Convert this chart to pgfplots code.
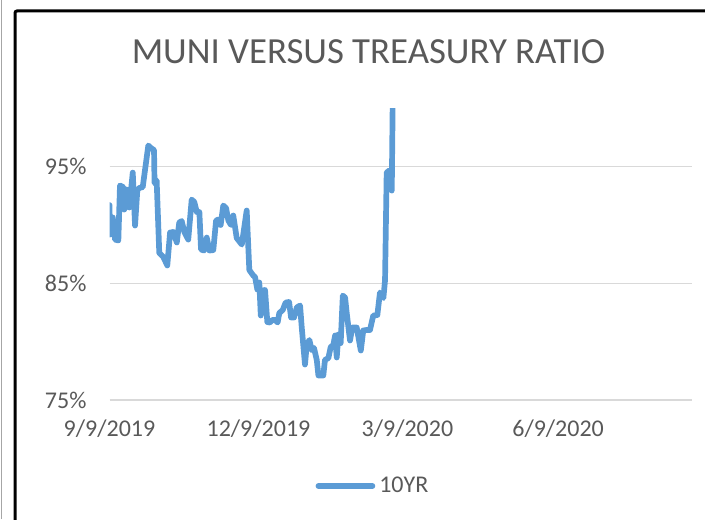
\documentclass[border=0pt]{standalone}
\usepackage{pgfplots}
\pgfplotsset{compat=1.18}
\usepackage{fontspec}
\setmainfont{Carlito}
\definecolor{xlblue}{HTML}{5B9BD5}
\definecolor{xlgrid}{HTML}{D9D9D9}
\definecolor{xltext}{HTML}{595959}
\begin{document}
\begin{tikzpicture}
\path[use as bounding box] (0pt,0pt) rectangle (352.5pt,259.5pt);
\begin{scope}
\clip (0pt,0pt) rectangle (352.5pt,259.5pt);
\draw[color=gray!70, line width=0.6pt] (0.6pt,0pt) -- (0.6pt,259.5pt);
\draw[black, line width=1.5pt, rounded corners=1pt] (7.5pt,-2pt) -- (7.5pt,254pt) -- (360pt,254pt);
\end{scope}
\node[text=xltext, font=\fontsize{18.4pt}{20pt}\selectfont, anchor=center] at (184.25pt,233.5pt) {MUNI VERSUS TREASURY RATIO};
\begin{axis}[
  at={(54.75pt,59.5pt)}, anchor=south west,
  scale only axis, width=291.25pt, height=145.85pt,
  xmin=0, xmax=355.8, ymin=75, ymax=100,
  axis line style={draw=none},
  major tick length=0pt,
  xtick={0,91,182,274},
  xticklabels={9/9/2019,12/9/2019,3/9/2020,6/9/2020},
  ytick={75,85,95},
  yticklabels={75\%,85\%,95\%},
  ymajorgrids, major grid style={xlgrid, line width=0.75pt},
  tick label style={text=xltext, font=\fontsize{12pt}{14pt}\selectfont},
  yticklabel style={xshift=-8pt},
  xticklabel style={yshift=-6.5pt},
  legend style={draw=none, fill=none, at={(0.454,-0.295)}, anchor=center,
    font=\fontsize{12pt}{14pt}\selectfont, text=xltext, inner sep=0pt},
  legend image code/.code={\draw[#1, line cap=round] (0pt,0pt) -- (27pt,0pt);},
  legend cell align=left,
]
\addplot[xlblue, line width=2.85pt, line join=round, line cap=round] coordinates {
(0,91.71) (0.3,89.18) (2.0,90.64) (3.4,88.75) (5.4,88.67) (6.4,93.38) (8.4,93.25)
(9.0,91.32) (10.5,93.04) (12.1,91.50) (14.2,94.49) (15.6,89.95) (17.0,93.0)
(18.2,93.17) (20.3,93.25) (23.7,96.81) (25.4,96.59) (27.2,96.42) (27.5,93.59)
(28.8,93.81) (30.4,87.6) (32.9,87.25) (35.3,86.53) (37.0,89.35) (39.0,89.4)
(41.1,88.5) (42.6,90.21) (44.1,90.34) (45.7,89.4) (48.1,88.75) (50.2,92.18)
(51.8,91.97) (53.3,91.11) (54.9,91.11) (55.9,87.9) (57.7,87.81) (59.4,88.92)
(61.0,87.81) (63.4,87.85) (65.1,90.38) (66.5,90.47) (67.9,90.0) (69.5,91.67)
(71.2,91.45) (72.6,90.38) (74.2,90.0) (75.6,90.81) (77.7,88.88) (80.8,88.32)
(83.8,91.24) (85.4,86.14) (87.8,85.67) (88.9,85.54) (90.3,84.47) (91.5,85.07)
(92.4,82.24) (93.6,84.38) (95.0,84.43) (96.4,81.68) (98.0,81.64) (99.5,81.86)
(101.1,81.86) (102.7,81.64) (103.7,82.45) (105.8,82.71) (107.6,83.35) (109.7,83.40)
(110.9,82.07) (112.7,82.07) (114.4,82.93) (116.4,83.10) (117.4,81.26) (119.4,78.04)
(120.5,79.76) (122.1,80.14) (123.5,79.28) (124.9,79.46) (126.6,78.43) (127.6,77.10)
(130.6,77.10) (131.6,78.43) (133.7,78.60) (135.1,79.54) (136.7,79.71) (137.8,80.53)
(138.8,78.64) (139.8,80.61) (141.2,79.88) (142.5,83.95) (143.9,83.78) (144.9,82.45)
(146.9,80.10) (148.3,81.21) (151.0,81.21) (153.5,79.24) (155.0,80.96) (157.1,81.0)
(159.1,81.0) (161.1,82.24) (163.6,82.28) (165.2,84.21) (167.3,83.74) (168.3,85.28)
(169.3,94.49) (170.9,94.67) (172.4,92.95) (173.4,106)
};
\addlegendentry{10YR}
\end{axis}
\end{tikzpicture}
\end{document}
